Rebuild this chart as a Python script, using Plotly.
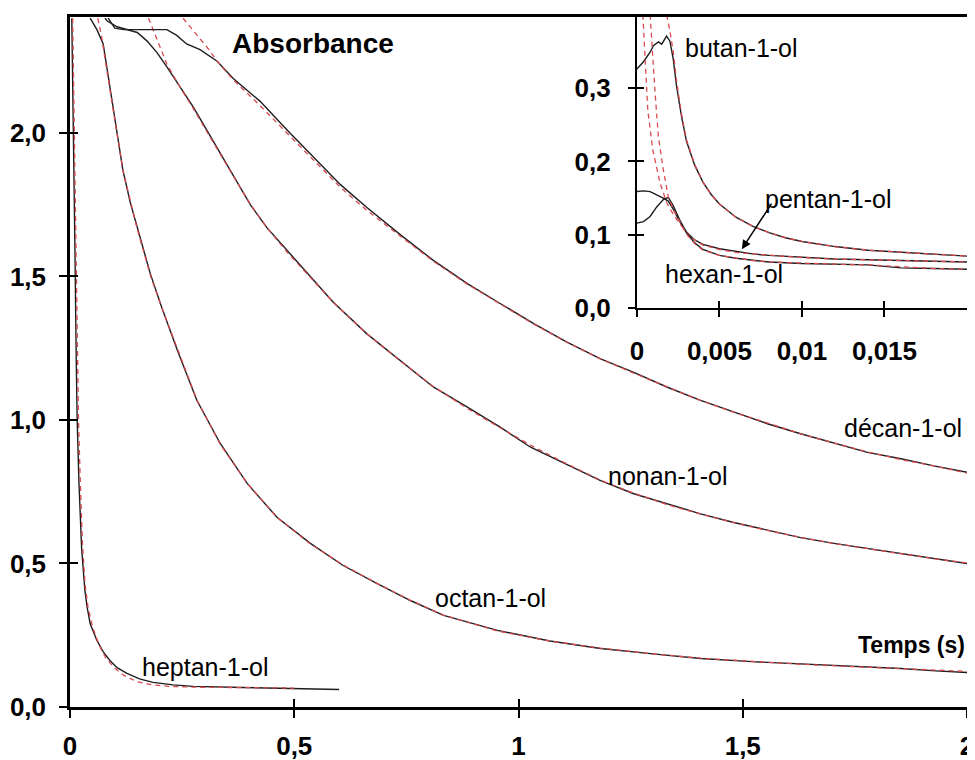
import plotly.graph_objects as go

# ---------------- main plot data (time in s, absorbance) ----------------
heptan_t = [0.004, 0.008, 0.011, 0.014, 0.016, 0.020, 0.026, 0.033, 0.038, 0.045, 0.060, 0.075,
            0.089, 0.105, 0.127, 0.155, 0.185, 0.230, 0.275, 0.386, 0.529, 0.550, 0.600]
heptan_A = [2.40, 2.00, 1.60, 1.20, 1.00, 0.78, 0.55, 0.41, 0.35, 0.29, 0.232, 0.19,
            0.162, 0.137, 0.117, 0.098, 0.086, 0.077, 0.072, 0.068, 0.065, 0.064, 0.061]
heptan_fit_t = [0.006, 0.010, 0.013, 0.016, 0.019, 0.023, 0.028, 0.034, 0.040, 0.050, 0.065, 0.080,
                0.100, 0.120, 0.150, 0.180, 0.220, 0.280, 0.380, 0.500]
heptan_fit_A = [2.40, 2.00, 1.60, 1.25, 1.00, 0.78, 0.56, 0.42, 0.35, 0.28, 0.215, 0.17,
                0.135, 0.110, 0.088, 0.078, 0.072, 0.069, 0.067, 0.066]

octan_t = [0.045, 0.060, 0.074, 0.085, 0.096, 0.107, 0.118, 0.134, 0.150, 0.165, 0.179, 0.205,
           0.240, 0.283, 0.335, 0.395, 0.462, 0.536, 0.609, 0.685, 0.759, 0.833, 0.953, 1.070,
           1.183, 1.300, 1.406, 1.520, 1.629, 1.740, 1.853, 1.930, 2.000]
octan_A = [2.40, 2.36, 2.31, 2.20, 2.08, 1.97, 1.87, 1.76, 1.67, 1.58, 1.51, 1.39,
           1.24, 1.068, 0.918, 0.779, 0.660, 0.570, 0.493, 0.430, 0.371, 0.319, 0.267, 0.230,
           0.204, 0.185, 0.169, 0.158, 0.151, 0.142, 0.134, 0.126, 0.120]
octan_fit_t = [0.062, 0.070, 0.080, 0.090, 0.100, 0.118, 0.150, 0.180, 0.205, 0.240, 0.283, 0.335,
               0.395, 0.462, 0.536, 0.609, 0.685, 0.759, 0.833, 0.953, 1.070, 1.183, 1.300, 1.406,
               1.520, 1.629, 1.740, 1.853, 2.000]
octan_fit_A = [2.40, 2.34, 2.24, 2.14, 2.04, 1.87, 1.665, 1.50, 1.39, 1.245, 1.07, 0.915,
               0.78, 0.66, 0.568, 0.495, 0.43, 0.372, 0.32, 0.265, 0.23, 0.205, 0.185, 0.17,
               0.158, 0.149, 0.141, 0.133, 0.124]

nonan_t = [0.078, 0.083, 0.105, 0.127, 0.150, 0.172, 0.194, 0.216, 0.245, 0.275, 0.305, 0.335,
           0.364, 0.402, 0.439, 0.484, 0.536, 0.587, 0.662, 0.737, 0.810, 0.886, 0.960, 1.027,
           1.100, 1.183, 1.257, 1.332, 1.406, 1.480, 1.555, 1.629, 1.703, 1.778, 1.853, 1.926, 2.000]
nonan_A = [2.40, 2.39, 2.37, 2.36, 2.35, 2.32, 2.28, 2.23, 2.16, 2.09, 2.01, 1.93,
           1.85, 1.75, 1.67, 1.59, 1.50, 1.41, 1.30, 1.207, 1.115, 1.045, 0.974, 0.905,
           0.85, 0.789, 0.743, 0.708, 0.673, 0.643, 0.615, 0.59, 0.57, 0.552, 0.534, 0.517, 0.50]
nonan_fit_t = [0.175, 0.185, 0.195, 0.206, 0.216, 0.245, 0.275, 0.305, 0.335, 0.364, 0.402, 0.439,
               0.484, 0.536, 0.587, 0.662, 0.737, 0.810, 0.886, 0.960, 1.027, 1.100, 1.183, 1.257,
               1.332, 1.406, 1.480, 1.555, 1.629, 1.703, 1.778, 1.853, 1.926, 2.000]
nonan_fit_A = [2.40, 2.36, 2.32, 2.28, 2.24, 2.16, 2.085, 2.005, 1.925, 1.85, 1.752, 1.67,
               1.585, 1.495, 1.41, 1.30, 1.205, 1.117, 1.04, 0.972, 0.912, 0.853, 0.79, 0.745,
               0.705, 0.672, 0.642, 0.615, 0.591, 0.57, 0.551, 0.534, 0.517, 0.502]

decan_t = [0.085, 0.100, 0.120, 0.186, 0.216, 0.238, 0.260, 0.290, 0.328, 0.364, 0.424, 0.484,
           0.543, 0.603, 0.662, 0.737, 0.810, 0.886, 0.960, 1.034, 1.109, 1.183, 1.257, 1.332,
           1.406, 1.480, 1.555, 1.629, 1.703, 1.778, 1.853, 1.926, 2.000]
decan_A = [2.40, 2.365, 2.36, 2.36, 2.36, 2.34, 2.31, 2.29, 2.25, 2.19, 2.11, 2.01,
           1.915, 1.82, 1.74, 1.645, 1.556, 1.475, 1.405, 1.336, 1.27, 1.213, 1.166, 1.114,
           1.068, 1.027, 0.987, 0.952, 0.92, 0.887, 0.865, 0.84, 0.818]
decan_fit_t = [0.252, 0.270, 0.290, 0.310, 0.328, 0.364, 0.424, 0.484, 0.543, 0.603, 0.662, 0.737,
               0.810, 0.886, 0.960, 1.034, 1.109, 1.183, 1.257, 1.332, 1.406, 1.480, 1.555, 1.629,
               1.703, 1.778, 1.853, 1.926, 2.000]
decan_fit_A = [2.40, 2.365, 2.33, 2.29, 2.25, 2.185, 2.095, 2.00, 1.905, 1.81, 1.73, 1.64,
               1.553, 1.473, 1.402, 1.334, 1.27, 1.213, 1.163, 1.114, 1.068, 1.027, 0.988, 0.952,
               0.92, 0.889, 0.862, 0.84, 0.815]

# ---------------- inset data ----------------
butan_t = [0.0, 0.0004, 0.0008, 0.0010, 0.0013, 0.0015, 0.0018, 0.0020, 0.0022, 0.0024, 0.0027,
           0.0030, 0.0035, 0.0040, 0.0045, 0.0050, 0.0060, 0.0070, 0.0080, 0.0090, 0.0100,
           0.0110, 0.0120, 0.0140, 0.0160, 0.0180, 0.0200]
butan_A = [0.326, 0.336, 0.349, 0.358, 0.363, 0.360, 0.371, 0.364, 0.340, 0.303, 0.262,
           0.228, 0.195, 0.172, 0.155, 0.142, 0.124, 0.112, 0.103, 0.096, 0.091,
           0.087, 0.084, 0.079, 0.076, 0.073, 0.071]
butan_fit_t = [0.0018, 0.0020, 0.0022, 0.0024, 0.0027, 0.0030, 0.0035, 0.0040, 0.0045, 0.0050,
               0.0060, 0.0070, 0.0080, 0.0090, 0.0100, 0.0110, 0.0120, 0.0140, 0.0160, 0.0180, 0.0200]
butan_fit_A = [0.40, 0.378, 0.35, 0.31, 0.265, 0.23, 0.196, 0.172, 0.155, 0.142,
               0.124, 0.112, 0.103, 0.096, 0.091, 0.087, 0.084, 0.079, 0.076, 0.073, 0.071]

pentan_t = [0.0, 0.0004, 0.0008, 0.0012, 0.0016, 0.0019, 0.0022, 0.0026, 0.0030, 0.0035, 0.0040,
            0.0050, 0.0060, 0.0070, 0.0080, 0.0100, 0.0120, 0.0140, 0.0160, 0.0180, 0.0200]
pentan_A = [0.159, 0.160, 0.159, 0.155, 0.150, 0.146, 0.135, 0.118, 0.104, 0.093, 0.087,
            0.081, 0.077, 0.074, 0.072, 0.069, 0.067, 0.066, 0.065, 0.064, 0.063]
pentan_fit_t = [0.00036, 0.00048, 0.00066, 0.00096, 0.0014, 0.0018, 0.0022, 0.0026, 0.0030, 0.0035,
                0.0040, 0.0050, 0.0060, 0.0070, 0.0080, 0.0100, 0.0120, 0.0140, 0.0160, 0.0180, 0.0200]
pentan_fit_A = [0.40, 0.34, 0.27, 0.216, 0.171, 0.144, 0.128, 0.115, 0.104, 0.093,
                0.086, 0.080, 0.076, 0.074, 0.072, 0.069, 0.067, 0.066, 0.065, 0.064, 0.063]

hexan_t = [0.0, 0.0004, 0.0008, 0.0012, 0.0016, 0.0019, 0.0022, 0.0026, 0.0030, 0.0035, 0.0040,
           0.0050, 0.0060, 0.0070, 0.0080, 0.0100, 0.0120, 0.0140, 0.0150, 0.0160, 0.0180, 0.0200]
hexan_A = [0.116, 0.118, 0.125, 0.138, 0.148, 0.151, 0.140, 0.120, 0.103, 0.089, 0.080,
           0.072, 0.068, 0.065, 0.063, 0.061, 0.060, 0.059, 0.057, 0.055, 0.054, 0.053]
hexan_fit_t = [0.0008, 0.0009, 0.0011, 0.0013, 0.0016, 0.0019, 0.0022, 0.0026, 0.0030, 0.0035,
               0.0040, 0.0050, 0.0060, 0.0070, 0.0080, 0.0100, 0.0120, 0.0140, 0.0160, 0.0180, 0.0200]
hexan_fit_A = [0.40, 0.363, 0.294, 0.234, 0.189, 0.152, 0.135, 0.118, 0.101, 0.088,
               0.079, 0.072, 0.068, 0.065, 0.063, 0.061, 0.060, 0.059, 0.056, 0.054, 0.053]

# ---------------- ticks ----------------
main_xticks = [0, 0.5, 1, 1.5, 2]
main_xlabels = ["0", "0,5", "1", "1,5", "2"]
main_yticks = [0, 0.5, 1.0, 1.5, 2.0]
main_ylabels = ["0,0", "0,5", "1,0", "1,5", "2,0"]
inset_xticks = [0, 0.005, 0.01, 0.015]
inset_xlabels = ["0", "0,005", "0,01", "0,015"]
inset_yticks = [0, 0.1, 0.2, 0.3]
inset_ylabels = ["0,0", "0,1", "0,2", "0,3"]

BLACK = "#1e1e1e"
RED = "#d94a50"
FONT = "Liberation Sans, Arial, sans-serif"

fig = go.Figure()

def add_pair(t, a, ft, fa, xa, ya):
    fig.add_trace(go.Scatter(x=t, y=a, mode="lines", xaxis=xa, yaxis=ya,
                             line=dict(color=BLACK, width=1.4), hoverinfo="skip"))
    fig.add_trace(go.Scatter(x=ft, y=fa, mode="lines", xaxis=xa, yaxis=ya,
                             line=dict(color=RED, width=1.3, dash="5px,4px"), hoverinfo="skip"))

add_pair(heptan_t, heptan_A, heptan_fit_t, heptan_fit_A, "x", "y")
add_pair(octan_t, octan_A, octan_fit_t, octan_fit_A, "x", "y")
add_pair(nonan_t, nonan_A, nonan_fit_t, nonan_fit_A, "x", "y")
add_pair(decan_t, decan_A, decan_fit_t, decan_fit_A, "x", "y")
add_pair(butan_t, butan_A, butan_fit_t, butan_fit_A, "x2", "y2")
add_pair(pentan_t, pentan_A, pentan_fit_t, pentan_fit_A, "x2", "y2")
add_pair(hexan_t, hexan_A, hexan_fit_t, hexan_fit_A, "x2", "y2")

# empty traces so the overlay (inner-tick) axes are rendered
fig.add_trace(go.Scatter(x=[None], y=[None], xaxis="x3", yaxis="y3", showlegend=False, hoverinfo="skip"))
fig.add_trace(go.Scatter(x=[None], y=[None], xaxis="x4", yaxis="y4", showlegend=False, hoverinfo="skip"))

tickfont = dict(family=FONT, size=26, color="black", weight="bold")

common = dict(showgrid=False, zeroline=False, tickcolor="black", tickwidth=2, automargin=False)

MAIN_XR = [0, 2]
MAIN_YR = [0, 2.404]
INS_XR = [0, 0.02]
INS_YR = [0, 0.397]
INS_XD = [0.632, 1.0]
INS_YD = [0.578, 1.0]

# the page places the figure 8 px from the window's top-left corner
fig.update_layout(
    width=967, height=752,
    margin=dict(l=62, r=8, t=9, b=53, autoexpand=False),
    paper_bgcolor="white", plot_bgcolor="white",
    showlegend=False,
    font=dict(family=FONT, color="black"),
    xaxis=dict(domain=[0, 1], range=MAIN_XR, anchor="y", tickmode="array",
               tickvals=main_xticks, ticktext=main_xlabels, tickfont=tickfont,
               ticks="outside", ticklen=8, showline=True, linecolor="black", linewidth=2.5,
               mirror=True, ticklabelstandoff=6, **common),
    yaxis=dict(domain=[0, 1], range=MAIN_YR, anchor="x", tickmode="array",
               tickvals=main_yticks, ticktext=main_ylabels, tickfont=tickfont,
               ticks="outside", ticklen=8, showline=True, linecolor="black", linewidth=2.5,
               mirror=True, ticklabelstandoff=8, **common),
    xaxis3=dict(overlaying="x", anchor="y3", range=MAIN_XR, tickmode="array",
                tickvals=main_xticks, ticks="inside", ticklen=8, showticklabels=False,
                showline=False, **common),
    yaxis3=dict(overlaying="y", anchor="x3", range=MAIN_YR, tickmode="array",
                tickvals=main_yticks, ticks="inside", ticklen=8, showticklabels=False,
                showline=False, **common),
    xaxis2=dict(domain=INS_XD, range=INS_XR, anchor="y2", tickmode="array",
                tickvals=inset_xticks, ticktext=inset_xlabels, tickfont=tickfont,
                ticks="outside", ticklen=7, showline=True, linecolor="black", linewidth=2,
                mirror=True, ticklabelstandoff=12, **common),
    yaxis2=dict(domain=INS_YD, range=INS_YR, anchor="x2", tickmode="array",
                tickvals=inset_yticks, ticktext=inset_ylabels, tickfont=tickfont,
                ticks="outside", ticklen=7, showline=True, linecolor="black", linewidth=2,
                mirror=True, ticklabelstandoff=12, **common),
    xaxis4=dict(overlaying="x2", anchor="y4", range=INS_XR, tickmode="array",
                tickvals=inset_xticks, ticks="inside", ticklen=7, showticklabels=False,
                showline=False, **common),
    yaxis4=dict(overlaying="y2", anchor="x4", range=INS_YR, tickmode="array",
                tickvals=inset_yticks, ticks="inside", ticklen=7, showticklabels=False,
                showline=False, **common),
)

lab = dict(family=FONT, size=25, color="black")
bold_big = dict(family=FONT, size=28, color="black", weight="bold")
bold_small = dict(family=FONT, size=23, color="black", weight="bold")

annotations = [
    dict(text="Absorbance", xref="paper", yref="paper", x=0.178, y=0.961,
         xanchor="left", yanchor="middle", showarrow=False, font=bold_big),
    dict(text="Temps (s)", xref="paper", yref="paper", x=1.0, y=0.09,
         xanchor="right", yanchor="middle", showarrow=False, font=bold_small),
    dict(text="décan-1-ol", xref="x", yref="y", x=1.857, y=0.972,
         xanchor="center", yanchor="middle", showarrow=False, font=lab),
    dict(text="nonan-1-ol", xref="x", yref="y", x=1.333, y=0.805,
         xanchor="center", yanchor="middle", showarrow=False, font=lab),
    dict(text="octan-1-ol", xref="x", yref="y", x=0.937, y=0.38,
         xanchor="center", yanchor="middle", showarrow=False, font=lab),
    dict(text="heptan-1-ol", xref="x", yref="y", x=0.301, y=0.139,
         xanchor="center", yanchor="middle", showarrow=False, font=lab),
    dict(text="butan-1-ol", xref="x2", yref="y2", x=0.00279, y=0.355,
         xanchor="left", yanchor="middle", showarrow=False, font=lab),
    dict(text="pentan-1-ol", xref="x2", yref="y2", x=0.00764, y=0.149,
         xanchor="left", yanchor="middle", showarrow=False, font=lab),
    dict(text="hexan-1-ol", xref="x2", yref="y2", x=0.00158, y=0.046,
         xanchor="left", yanchor="middle", showarrow=False, font=lab),
    dict(text="", xref="x2", yref="y2", x=0.00636, y=0.0805, ax=30, ay=-46,
         showarrow=True, arrowhead=2, arrowsize=1.2, arrowwidth=1.5, arrowcolor="black",
         font=dict(size=1), borderpad=0),
]
fig.update_layout(annotations=annotations)

fig.write_html("out.html")
